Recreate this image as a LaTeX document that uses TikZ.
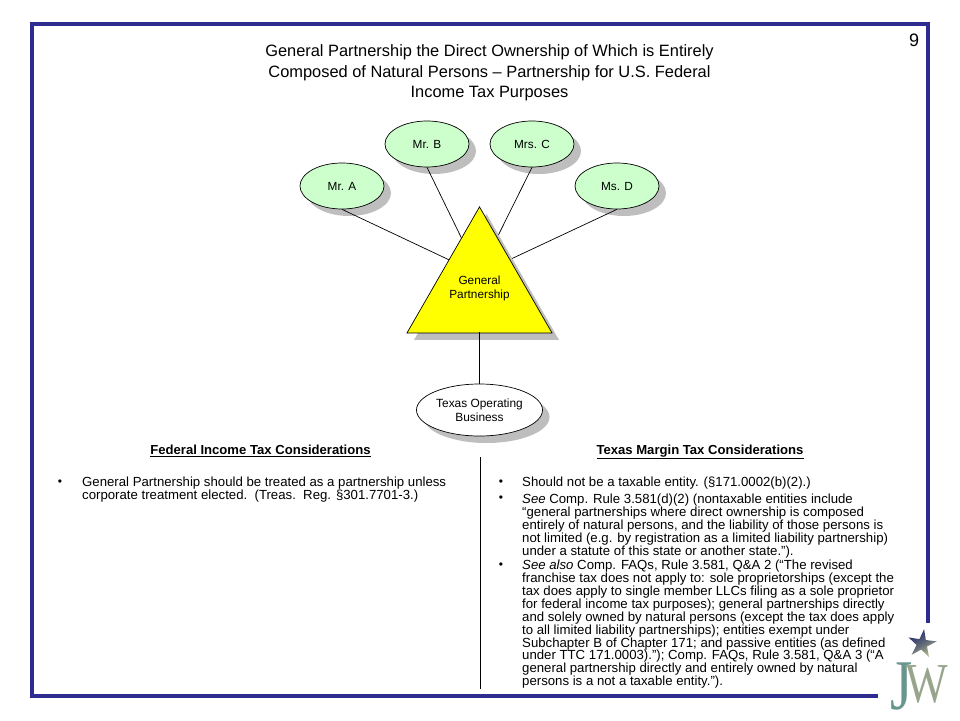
\documentclass[tikz,border=0pt]{standalone}
\usepackage{fontspec}
\setmainfont{Liberation Sans}
\newfontfamily\logofont{Liberation Serif}
\usetikzlibrary{shapes.geometric,shadows}
\definecolor{framebl}{RGB}{45,45,145}
\definecolor{mintfill}{RGB}{204,255,204}
\definecolor{shadowg}{RGB}{190,190,190}
\definecolor{triyellow}{RGB}{255,255,0}
\definecolor{starnavy}{RGB}{35,45,105}
\definecolor{starolive}{RGB}{185,190,140}
\definecolor{logoteal}{RGB}{105,150,140}
\definecolor{logoolive}{RGB}{150,165,140}
\tikzset{
  shadowed/.style={drop shadow={shadow xshift=7pt,shadow yshift=-7pt,fill=shadowg,opacity=1}},
  person/.style={ellipse,draw=black,line width=.7pt,fill=mintfill,minimum width=84pt,minimum height=46pt,inner sep=0pt,shadowed,font=\fontsize{11.8}{14}\selectfont},
  bizz/.style={ellipse,draw=black,line width=.7pt,fill=white,minimum width=126pt,minimum height=52pt,inner sep=0pt,shadowed,align=center,font=\fontsize{11.9}{14}\selectfont},
  gptri/.style={isosceles triangle,isosceles triangle stretches,shape border rotate=90,draw=black,line width=.7pt,fill=triyellow,minimum width=145pt,minimum height=126pt,inner sep=0pt,shadowed},
  link/.style={draw=black,line width=.7pt},
  titletext/.style={align=center,inner sep=0pt,font=\fontsize{16.4}{20.5}\selectfont},
  headtext/.style={anchor=base,inner sep=0pt,font=\fontsize{13.1}{13}\selectfont\bfseries},
  bodytext/.style={anchor=north west,align=left,inner sep=0pt,font=\fontsize{13.2}{12.9}\selectfont},
  bulletmark/.style={inner sep=0pt,font=\fontsize{12}{13}\selectfont},
}
\begin{document}
\begin{tikzpicture}[x=1pt,y=-1pt]
\useasboundingbox (0,0) rectangle (960,720);
% frame
\draw[framebl,line width=4pt] (928,623) -- (928,24) -- (32,24) -- (32,696) -- (878,696);
\node[inner sep=0pt,font=\fontsize{18}{20}\selectfont] (pagenum) at (914,40.5) {9};
\node[titletext] (title) at (489.5,73) {General Partnership the Direct Ownership of Which is Entirely\\Composed of Natural Persons -- Partnership for U.S. Federal\\Income Tax Purposes};
% owners
\node[person] (a) at (342,186) {Mr. A};
\node[person] (b) at (427,144) {Mr. B};
\node[person] (c) at (532,144) {Mrs. C};
\node[person] (d) at (617,186) {Ms. D};
\coordinate (hub) at (479,274);
\draw[link] (a.south) -- (hub);
\draw[link] (b.south) -- (hub);
\draw[link] (c.south) -- (hub);
\draw[link] (d.south) -- (hub);
\node[gptri,anchor=apex] (gp) at (479.5,206) {};
\node[inner sep=0pt,align=center,font=\fontsize{11.8}{14}\selectfont] (gplabel) at (479.5,288.5) {General\\Partnership};
\node[bizz] (texas) at (479.5,410) {Texas Operating\\Business};
\draw[link] (gplabel |- 0,332) -- (texas.north);
% columns
\node[headtext] (fedhead) at (260.5,454.5) {\underline{Federal Income Tax Considerations}};
\node[headtext] (texhead) at (700,454.5) {\underline{Texas Margin Tax Considerations}};
\coordinate (divtop) at (480,457);
\coordinate (divbot) at (480,689);
\draw[black,line width=.8pt] (divtop) -- (divbot);
\node[bulletmark] (bl1) at (60,482.5) {•};
\node[bodytext] (fedbody) at (82,477) {General Partnership should be treated as a partnership unless\\corporate treatment elected.\ \ (Treas.\ \ Reg. §301.7701-3.)};
\node[bulletmark] (br1) at (501,482.5) {•};
\node[bodytext] (tex1) at (522,477) {Should not be a taxable entity. (§171.0002(b)(2).)};
\node[bulletmark] (br2) at (501,499) {•};
\node[bodytext] (tex2) at (522,494) {\textit{See} Comp. Rule 3.581(d)(2) (nontaxable entities include\\“general partnerships where direct ownership is composed\\entirely of natural persons, and the liability of those persons is\\not limited (e.g. by registration as a limited liability partnership)\\under a statute of this state or another state.”).};
\node[bulletmark] (br3) at (501,566) {•};
\node[bodytext] (tex3) at (522,560) {\textit{See also} Comp. FAQs, Rule 3.581, Q\&A 2 (“The revised\\franchise tax does not apply to: sole proprietorships (except the\\tax does apply to single member LLCs filing as a sole proprietor\\for federal income tax purposes); general partnerships directly\\and solely owned by natural persons (except the tax does apply\\to all limited liability partnerships); entities exempt under\\Subchapter B of Chapter 171; and passive entities (as defined};
\node[bodytext] (tex3b) at (522,650) {under TTC 171.0003).”); Comp. FAQs, Rule 3.581, Q\&A 3 (“A\\general partnership directly and entirely owned by natural\\persons is a not a taxable entity.”).};
% logo
\node[star,star points=5,star point ratio=2.7,minimum size=30pt,inner sep=0pt,top color=starnavy,bottom color=starolive,middle color=starnavy!60!starolive,shading angle=30,rotate=-8] (logostar) at (922,644) {};
\node[inner sep=0pt,xscale=.92,yscale=1.15,font=\logofont] (logo) at (919,686) {\raisebox{-6pt}{\textcolor{logoteal}{\fontsize{62}{62}\selectfont J}}\kern-8pt\textcolor{logoolive}{\fontsize{49}{49}\selectfont W}};
\end{tikzpicture}
\end{document}
